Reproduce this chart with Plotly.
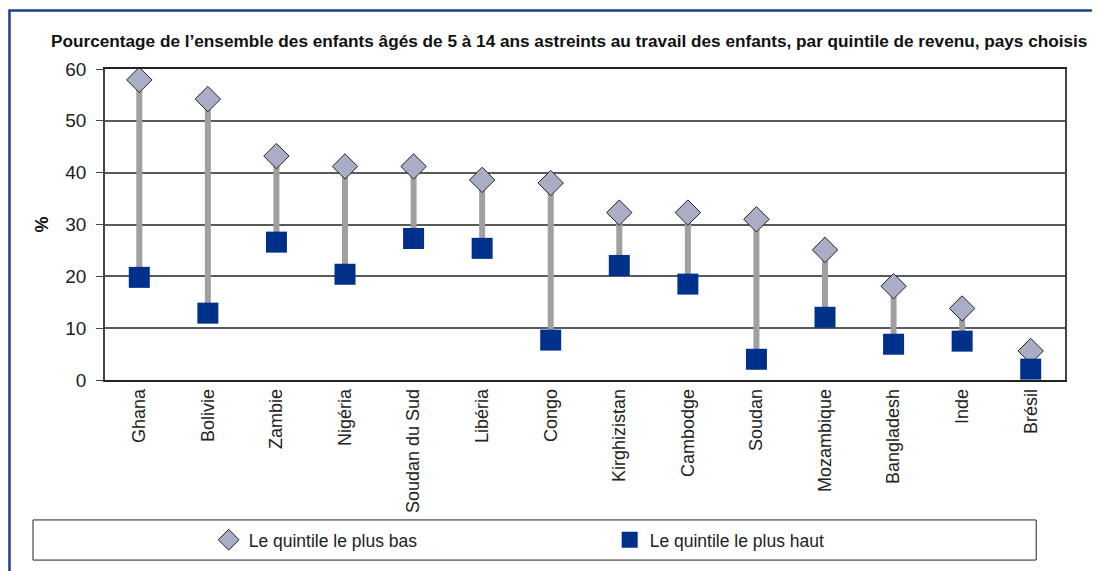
import plotly.graph_objects as go

# valeurs (%)
pays = ["Ghana", "Bolivie", "Zambie", "Nigéria", "Soudan du Sud", "Libéria", "Congo",
        "Kirghizistan", "Cambodge", "Soudan", "Mozambique", "Bangladesh", "Inde", "Brésil"]
quintile_bas = [57.9, 54.2, 43.2, 41.2, 41.2, 38.6, 38.0, 32.3, 32.3, 31.0, 25.1, 18.1, 13.8, 5.6]
quintile_haut = [19.8, 12.9, 26.6, 20.4, 27.3, 25.4, 7.7, 22.1, 18.5, 4.0, 12.1, 6.9, 7.5, 2.1]

FONT = "Liberation Sans"
BLEU = "#00318a"
GRIS = "#a0a0a0"

# segments verticaux entre les deux quintiles
seg_x, seg_y = [], []
for p, b, h in zip(pays, quintile_bas, quintile_haut):
    seg_x += [p, p, None]
    seg_y += [b, h, None]

fig = go.Figure()
fig.add_trace(go.Scatter(
    x=seg_x, y=seg_y, mode="lines",
    line=dict(color=GRIS, width=6),
    showlegend=False, hoverinfo="skip",
))
fig.add_trace(go.Scatter(
    x=pays, y=quintile_bas, mode="markers", name="Le quintile le plus bas",
    marker=dict(symbol="diamond", size=19.5, color="#a9aec6",
                line=dict(color="#222222", width=1)),
    cliponaxis=False,
))
fig.add_trace(go.Scatter(
    x=pays, y=quintile_haut, mode="markers", name="Le quintile le plus haut",
    marker=dict(symbol="square", size=21, color=BLEU, line=dict(width=0)),
    cliponaxis=False,
))

# cadre bleu autour de la figure
fig.add_shape(type="rect", xref="paper", yref="paper",
              x0=-0.0995, x1=1.08, y0=-0.7, y1=1.188,
              line=dict(color="#1d3f8f", width=2.5), layer="below")
# cadre de la légende
fig.add_shape(type="rect", xref="paper", yref="paper",
              x0=-0.075, x1=0.970, y0=-0.450, y1=-0.579,
              line=dict(color="#222222", width=1))

fig.add_annotation(
    text="Pourcentage de l’ensemble des enfants âgés de 5 à 14 ans astreints au travail des enfants, par quintile de revenu, pays choisis",
    xref="paper", yref="paper", x=0.483, y=1.09, xanchor="center", yanchor="middle",
    showarrow=False, font=dict(family=FONT, size=17.2, color="#111111", weight="bold"),
)

fig.update_layout(
    width=1100, height=571,
    margin=dict(l=97, r=43, t=61, b=199),
    paper_bgcolor="white", plot_bgcolor="white",
    font=dict(family=FONT, color="#222222"),
    showlegend=True,
    legend=dict(
        orientation="h", x=0.108, y=-0.514, xanchor="left", yanchor="middle",
        font=dict(family=FONT, size=17.5, color="#222222"),
        entrywidth=356, itemsizing="trace", bgcolor="rgba(0,0,0,0)",
    ),
    xaxis=dict(
        type="category", categoryorder="array", categoryarray=pays,
        range=[-0.5, 13.5], tickangle=-90, showgrid=False,
        showline=True, linecolor="#222222", linewidth=1.5, mirror=True,
        ticks="", tickfont=dict(family=FONT, size=18, color="#222222"),
        zeroline=False,
    ),
    yaxis=dict(
        range=[0, 60], dtick=10, showgrid=True, gridcolor="#5a5a5a", gridwidth=1.5,
        showline=True, linecolor="#444444", linewidth=1.5, mirror=True,
        ticks="outside", ticklen=7, tickcolor="#444444", ticklabelstandoff=6,
        tickfont=dict(family=FONT, size=19, color="#222222"),
        title=dict(text="<b>%</b>", font=dict(family=FONT, size=18, color="#111111"), standoff=12),
        zeroline=False,
    ),
)

fig.write_html("out.html")
